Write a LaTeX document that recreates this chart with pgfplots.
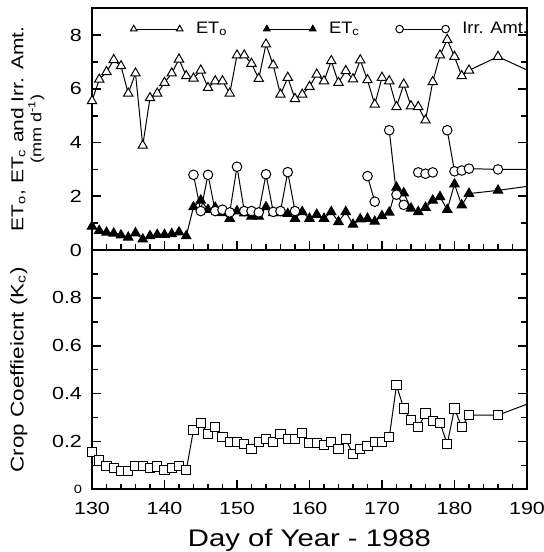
\documentclass[border=0pt]{standalone}
\usepackage{fontspec}
\setmainfont{Liberation Sans}[FakeStretch=1.22]
\newfontfamily\legfont{Liberation Sans}[FakeStretch=1.1]
\usepackage{pgfplots}
\usepackage{pgfplotstable}
\pgfplotsset{compat=1.18}

\pgfplotstableread{
d eto etc kc
130 5.55 0.88 0.157
131 6.35 0.72 0.120
132 6.63 0.65 0.097
133 7.08 0.62 0.088
134 6.85 0.55 0.078
135 5.83 0.47 0.078
136 6.58 0.63 0.097
137 3.89 0.40 0.097
138 5.66 0.52 0.088
139 5.83 0.57 0.095
140 6.23 0.57 0.080
141 6.58 0.60 0.088
142 7.10 0.66 0.097
143 6.48 0.52 0.080
144 6.39 1.60 0.248
145 6.69 1.85 0.278
146 6.04 1.50 0.230
147 6.29 1.58 0.261
148 6.29 1.38 0.220
149 5.83 1.17 0.199
150 7.25 1.45 0.199
151 7.25 1.37 0.189
152 6.94 1.25 0.167
153 6.38 1.25 0.199
154 7.66 1.60 0.209
155 6.88 1.38 0.199
156 5.79 1.38 0.231
157 6.42 1.35 0.209
158 5.63 1.17 0.209
159 5.79 1.42 0.236
160 6.08 1.17 0.195
161 6.54 1.32 0.195
162 6.29 1.17 0.185
163 7.04 1.42 0.199
164 6.23 1.05 0.167
165 6.67 1.42 0.209
166 6.36 0.95 0.147
167 7.07 1.15 0.167
168 6.33 1.17 0.181
169 5.42 1.06 0.199
170 6.42 1.27 0.199
171 6.29 1.40 0.217
172 5.33 2.33 0.435
173 6.17 2.12 0.338
174 5.36 1.55 0.289
175 5.33 1.42 0.259
176 4.83 1.58 0.317
177 6.26 1.85 0.286
178 7.25 1.98 0.278
179 7.83 1.50 0.189
180 7.20 2.45 0.338
181 6.48 1.67 0.259
182 6.69 2.10 0.310
186 7.20 2.22 0.310
193 6.33 2.48 0.390
}\mainTable

\pgfplotstableread{
d irr
144 2.80
145 1.45
146 2.80
147 1.45
148 1.50
149 1.40
150 3.10
151 1.45
152 1.45
153 1.40
154 2.82
155 1.42
156 1.45
157 2.90
158 1.45
163 nan
168 2.75
169 1.80
170 nan
171 4.46
172 2.06
173 1.68
174 nan
175 2.89
176 2.84
177 2.89
178 nan
179 4.46
180 2.93
181 2.96
182 3.03
186 3.00
193 3.00
}\irrTable

\pgfplotsset{
  every tick label/.append style={font=\fontsize{8.8}{10}\selectfont},
  /pgf/number format/assume math mode=true,
  common/.style={
    scale only axis, width=217.5pt,
    xmin=130, xmax=190,
    xtick={130,140,...,190}, minor xtick={132,134,...,188},
    tick align=inside, xtick pos=bottom, ytick pos=both,
    major tick length=4.5pt, minor tick length=2.8pt,
    every tick/.style={black, line width=0.8pt},
    axis line style={line width=1pt},
    every axis plot/.append style={black, line width=0.5pt},
    clip=true,
  },
}

\begin{document}
\begin{tikzpicture}
\useasboundingbox (-46pt,-31.35pt) rectangle ++(272pt,276pt);
\begin{axis}[common, name=bot,
  at={(0pt,0pt)}, anchor=south west,
  height=119.65pt,
  ymin=0, ymax=1,
  ytick={0,0.2,0.4,0.6,0.8},
  yticklabels={{\fontsize{6}{7}\selectfont 0},0.2,0.4,0.6,0.8},
  minor ytick={0.1,0.3,0.5,0.7,0.9},
  xticklabel style={anchor=base, yshift=-12.6pt},
  yticklabel style={xshift=-1.5pt},
  xlabel={Day of Year - 1988},
  xlabel style={font=\fontsize{12}{14}\selectfont, at={(axis description cs:0.5,-0.241)}, anchor=base},
  ylabel={Crop Coeffieicnt (K\textsubscript{c})},
  ylabel style={font=\fontsize{9.2}{11}\selectfont, at={(axis description cs:-0.168,0.5)}, anchor=center, rotate=0},
]
\addplot[mark=square*, mark size=2.3pt, mark options={fill=white, solid}] table[x=d, y=kc] {\mainTable};
\end{axis}

\begin{axis}[common, name=top,
  at={(bot.north west)}, anchor=south west,
  height=120.85pt,
  ymin=0, ymax=9,
  ytick={0,2,4,6,8}, minor ytick={1,3,5,7},
  xticklabels={},
  yticklabel style={xshift=-1.5pt},
  unbounded coords=jump,
  ylabel={ET\textsubscript{o}, ET\textsubscript{c} and Irr. Amt.\\[-1pt]{\fontsize{7.4}{8}\selectfont (mm d\textsuperscript{-1})}},
  ylabel style={font=\fontsize{8.6}{10}\selectfont, align=center, at={(axis description cs:-0.148,0.5)}, anchor=center},
  legend columns=3,
  legend style={draw=none, fill=none, at={(0.55,0.914)}, anchor=center,
    font=\legfont\fontsize{8.3}{9}\selectfont,
    /tikz/every even column/.append style={column sep=16pt},
    /tikz/every odd column/.append style={column sep=4.5pt},
    inner sep=0pt},
  legend image code/.code={\draw[#1, mark size=1.9pt] plot coordinates {(0pt,0pt) (23pt,0pt)};},
]
\addplot[mark=triangle*, mark size=2.7pt, mark options={fill=white, solid}] table[x=d, y=eto] {\mainTable};
\addlegendentry{ET\textsubscript{o}}
\addplot[mark=triangle*, mark size=2.7pt, mark options={fill=black, solid}] table[x=d, y=etc] {\mainTable};
\addlegendentry{ET\textsubscript{c}}
\addplot[mark=*, mark size=2.4pt, mark options={fill=white, solid}] table[x=d, y=irr] {\irrTable};
\addlegendentry{Irr. Amt.}
\end{axis}
\end{tikzpicture}
\end{document}
